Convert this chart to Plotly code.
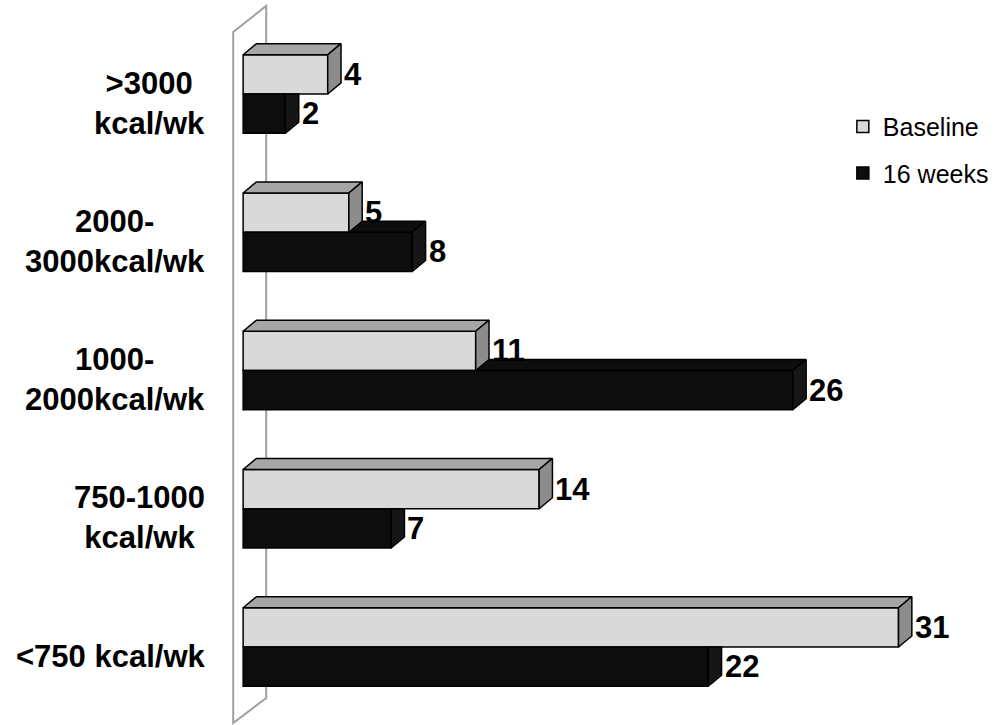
import plotly.graph_objects as go

# Weekly energy expenditure categories, top to bottom
categories = ["&gt;3000<br>kcal/wk", "2000-<br>3000kcal/wk", "1000-<br>2000kcal/wk",
              "750-1000<br>kcal/wk", "&lt;750 kcal/wk"]
baseline = [4, 5, 11, 14, 31]
weeks16 = [2, 8, 26, 7, 22]
series_names = ["Baseline", "16 weeks"]

# Category positions on a numeric y axis (top category highest)
ypos = [4, 3, 2, 1, 0]

# Geometry of the pseudo-3D bars (axis units)
H = 0.284      # thickness of one bar
DX = 0.63      # depth offset along x
DY = 0.08      # depth offset along y

C_BASE_FRONT, C_BASE_TOP, C_BASE_SIDE = "#D9D9D9", "#A6A6A6", "#8C8C8C"
C_WK_FRONT, C_WK_TOP, C_WK_SIDE = "#0D0D0D", "#0D0D0D", "#161616"
EDGE = dict(color="black", width=1.5)
FONT = "Liberation Sans, Arial, sans-serif"

fig = go.Figure()

# Front faces as horizontal bars
fig.add_trace(go.Bar(
    name=series_names[0], orientation="h", x=baseline, y=ypos, base=0,
    width=H, offset=0, marker=dict(color=C_BASE_FRONT, line=EDGE),
    legendgroup="a", hoverinfo="skip"))
fig.add_trace(go.Bar(
    name=series_names[1], orientation="h", x=weeks16, y=ypos, base=0,
    width=H, offset=-H, marker=dict(color=C_WK_FRONT, line=EDGE),
    legendgroup="b", hoverinfo="skip"))


def face(xs, ys, color):
    fig.add_trace(go.Scatter(
        x=xs + [xs[0]], y=ys + [ys[0]], mode="lines", fill="toself",
        fillcolor=color, line=EDGE, showlegend=False, hoverinfo="skip"))


# Depth faces of the 16-week bars (lower bar), trimmed where the
# baseline bar sits in front of them
for y, vb, vk in zip(ypos, baseline, weeks16):
    if vk > vb:
        face([vb, vk, vk + DX, vb], [y, y, y + DY, y + DY], C_WK_TOP)
        face([vk, vk, vk + DX, vk + DX], [y - H, y, y + DY, y - H + DY], C_WK_SIDE)
    else:
        face([vk, vk, vk + DX, vk + DX], [y - H, y, y, y - H + DY], C_WK_SIDE)

# Depth faces of the baseline bars
for y, vb in zip(ypos, baseline):
    top = y + H
    face([0, vb, vb + DX, DX], [top, top, top + DY, top + DY], C_BASE_TOP)
    face([vb, vb, vb + DX, vb + DX], [y, top, top + DY, y + DY], C_BASE_SIDE)

annotations = []
# Value labels beside each bar
for y, vb, vk in zip(ypos, baseline, weeks16):
    for v, yc in ((vb, y + H / 2), (vk, y - H / 2)):
        annotations.append(dict(
            x=v + DX, y=yc, xref="x", yref="y", text=str(v), showarrow=False,
            xanchor="left", yanchor="middle", xshift=1,
            font=dict(family=FONT, size=31, color="black", weight="bold")))

# Category labels, right-aligned block left of the wall
for y, lab in zip(ypos, categories):
    annotations.append(dict(
        x=-0.0193, y=y - 0.066, xref="paper", yref="y", text=lab, showarrow=False,
        xanchor="right", yanchor="middle", align="center",
        font=dict(family=FONT, size=31, color="black", weight="bold")))

# Back wall of the 3D plot box
wall = dict(type="path", xref="x", yref="y", layer="below",
            line=dict(color="#A0A0A0", width=2),
            path="M -0.47,4.448 L 1.09,4.637 L 1.09,-0.369 L -0.47,-0.55 Z")

fig.update_layout(
    width=1000, height=725,
    margin=dict(l=222, r=0, t=0, b=0),
    paper_bgcolor="white", plot_bgcolor="white",
    barmode="overlay",
    xaxis=dict(range=[-1, 35.8], visible=False),
    yaxis=dict(range=[-0.564, 4.680], visible=False),
    shapes=[wall],
    annotations=annotations,
    showlegend=True,
    legend=dict(x=0.798, y=0.857, xanchor="left", yanchor="top",
                traceorder="grouped", tracegroupgap=11,
                font=dict(family=FONT, size=25, color="black"),
                bgcolor="rgba(0,0,0,0)"),
)

fig.write_html("out.html")
